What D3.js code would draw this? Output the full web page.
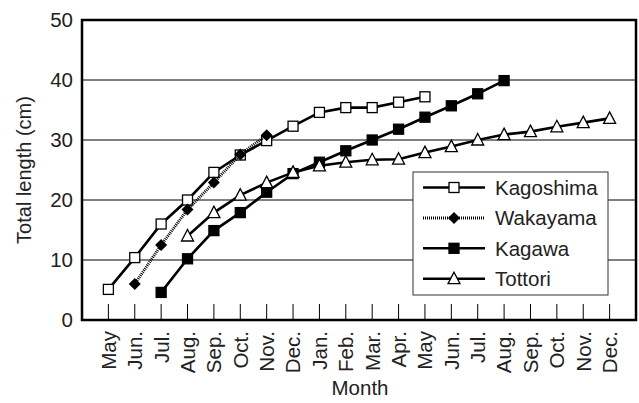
<!DOCTYPE html>
<html>
<head>
<meta charset="utf-8">
<script src="https://cdn.jsdelivr.net/npm/d3@7"></script>
<style>
  body { margin: 0; background: #fff; }
  text { font-family: "Liberation Sans", Arial, sans-serif; fill: #222; }
</style>
</head>
<body>
<div id="chart"></div>
<script>
const months = ["May", "Jun.", "Jul.", "Aug.", "Sep.", "Oct.", "Nov.", "Dec.", "Jan.", "Feb.",
  "Mar.", "Apr.", "May", "Jun.", "Jul.", "Aug.", "Sep.", "Oct.", "Nov.", "Dec."];
const yTicks = [0, 10, 20, 30, 40, 50];

// values, each series starts at its own month (start index below)
const kagoshima = [5.1, 10.4, 16.0, 20.0, 24.6, 27.5, 29.9, 32.3, 34.6, 35.4, 35.4, 36.3, 37.2];
const wakayama = [6.0, 12.5, 18.4, 22.9, 27.6, 30.8];
const kagawa = [4.6, 10.2, 14.9, 17.9, 21.3, 24.4, 26.3, 28.2, 30.0, 31.8, 33.8, 35.7, 37.7, 39.9];
const tottori = [14.0, 17.9, 20.8, 22.9, 24.6, 25.7, 26.3, 26.7, 26.8, 27.9, 28.9, 30.0, 30.9, 31.4, 32.2, 32.9, 33.6];

const series = [
  { name: "Kagoshima", start: 0, values: kagoshima, marker: "square", fill: "#fff", dash: null },
  { name: "Wakayama", start: 1, values: wakayama, marker: "diamond", fill: "#000", dash: "1 1" },
  { name: "Kagawa", start: 2, values: kagawa, marker: "square", fill: "#000", dash: null },
  { name: "Tottori", start: 3, values: tottori, marker: "triangle", fill: "#fff", dash: null }
];

const width = 639, height = 403;
const plot = { left: 82, right: 636, top: 20, bottom: 320 };

const svg = d3.select("#chart").append("svg")
  .attr("width", width).attr("height", height);

const x = d3.scalePoint().domain(d3.range(months.length))
  .range([plot.left, plot.right]).padding(1);
const y = d3.scaleLinear().domain([0, 50]).range([plot.bottom, plot.top]);

// grid
svg.append("g").selectAll("line")
  .data(yTicks.filter(d => d > 0 && d < 50))
  .enter().append("line")
  .attr("x1", plot.left).attr("x2", plot.right)
  .attr("y1", d => y(d)).attr("y2", d => y(d))
  .attr("stroke", "#000").attr("stroke-width", 1);

// x ticks (inside)
svg.append("g").selectAll("line")
  .data(d3.range(months.length))
  .enter().append("line")
  .attr("x1", d => x(d)).attr("x2", d => x(d))
  .attr("y1", plot.bottom).attr("y2", plot.bottom - 16)
  .attr("stroke", "#000").attr("stroke-width", 1);

// y tick labels
svg.append("g").selectAll("text")
  .data(yTicks)
  .enter().append("text")
  .attr("x", 73).attr("y", d => y(d))
  .attr("dy", "0.36em")
  .attr("text-anchor", "end")
  .attr("font-size", "20.5px")
  .text(d => d);

// x tick labels
svg.append("g").selectAll("text")
  .data(months)
  .enter().append("text")
  .attr("transform", (d, i) => `translate(${x(i)},331) rotate(-90)`)
  .attr("dy", "0.36em")
  .attr("text-anchor", "end")
  .attr("font-size", "20.5px")
  .text(d => d);

svg.append("text")
  .attr("x", 360).attr("y", 395)
  .attr("text-anchor", "middle")
  .attr("font-size", "20.5px")
  .text("Month");

svg.append("text")
  .attr("transform", "translate(31,170) rotate(-90)")
  .attr("text-anchor", "middle")
  .attr("font-size", "20px")
  .text("Total length (cm)");

function drawMarker(g, type, fill) {
  if (type === "square") {
    g.append("rect").attr("x", -5).attr("y", -5).attr("width", 10).attr("height", 10)
      .attr("fill", fill).attr("stroke", "#000").attr("stroke-width", 1.3);
  } else if (type === "diamond") {
    g.append("path").attr("d", "M0,-6L6,0L0,6L-6,0Z").attr("fill", fill);
  } else {
    g.append("path").attr("d", "M0,-6.5L6,5L-6,5Z")
      .attr("fill", fill).attr("stroke", "#000").attr("stroke-width", 1.3);
  }
}

const line = d3.line().x(d => x(d.i)).y(d => y(d.v));

series.forEach(s => {
  const pts = s.values.map((v, k) => ({ i: s.start + k, v }));
  svg.append("path")
    .datum(pts)
    .attr("d", line)
    .attr("fill", "none")
    .attr("stroke", "#000")
    .attr("stroke-width", s.dash ? 3 : 2.6)
    .attr("stroke-dasharray", s.dash);
  pts.forEach(p => {
    const g = svg.append("g").attr("transform", `translate(${x(p.i)},${y(p.v)})`);
    drawMarker(g, s.marker, s.fill);
  });
});

// frame
svg.append("rect")
  .attr("x", plot.left).attr("y", plot.top)
  .attr("width", plot.right - plot.left).attr("height", plot.bottom - plot.top)
  .attr("fill", "none").attr("stroke", "#000").attr("stroke-width", 2.5);

// legend
const legend = svg.append("g").attr("transform", "translate(413,172)");
legend.append("rect")
  .attr("width", 195).attr("height", 123)
  .attr("fill", "#fff").attr("stroke", "#333").attr("stroke-width", 1);

series.forEach((s, i) => {
  const g = legend.append("g").attr("transform", `translate(0, ${15.5 + i * 30.4})`);
  g.append("line")
    .attr("x1", 10).attr("x2", 72)
    .attr("stroke", "#000")
    .attr("stroke-width", s.dash ? 3 : 2.6)
    .attr("stroke-dasharray", s.dash);
  const m = g.append("g").attr("transform", "translate(41,0)");
  drawMarker(m, s.marker, s.fill);
  g.append("text")
    .attr("x", 82).attr("dy", "0.36em")
    .attr("font-size", "20.5px")
    .text(s.name);
});
</script>
</body>
</html>
